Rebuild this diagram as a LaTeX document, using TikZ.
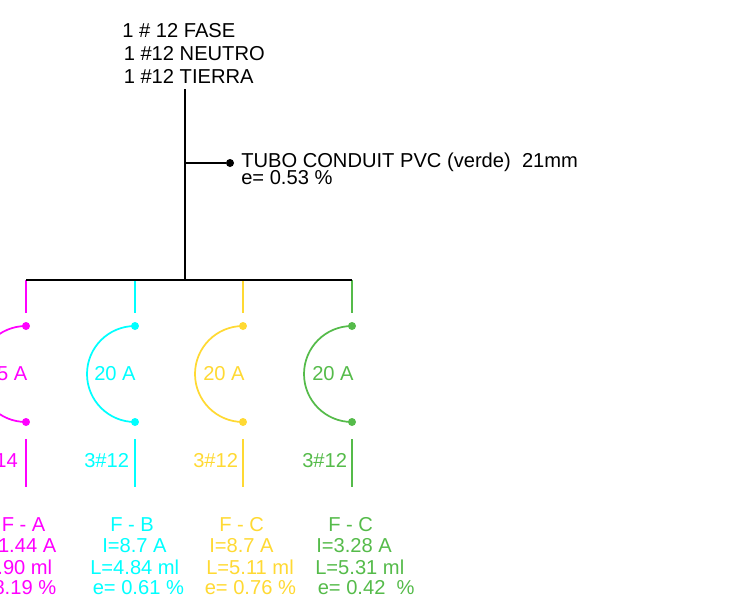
\documentclass[tikz,border=0pt]{standalone}
\usepackage{fontspec}
\setmainfont{Liberation Sans}
\definecolor{faseA}{HTML}{FF00FF}
\definecolor{faseB}{HTML}{00FFFF}
\definecolor{faseC}{HTML}{FFD933}
\definecolor{faseD}{HTML}{55BB4A}
\tikzset{
  lbl/.style={inner sep=0pt,anchor=base west,xshift=-0.75pt,font=\fontsize{15.1}{15}\selectfont},
  lblr/.style={lbl,anchor=base east},
  dot/.style={circle,fill,inner sep=0pt,minimum size=6pt},
  bus/.style={line width=1.5pt,black},
  wire/.style={line width=1.3pt}
}
\begin{document}
\begin{tikzpicture}[x=0.75pt,y=-0.75pt]
  \useasboundingbox (0,0) rectangle (731,608);
  % alimentador
  \draw
    (123,37) node[lbl] (t1){1 \# 12 FASE}
    (124.5,60) node[lbl] (t2){1 \#12 NEUTRO}
    (124.5,83) node[lbl] (t3){1 \#12 TIERRA}
    (242,167) node[lbl] (t4){TUBO CONDUIT PVC (verde)\ \ 21mm}
    (242,184) node[lbl] (t5){e= 0.53 \%};
  \coordinate (top) at (185,89);
  \coordinate (j0) at (185,163);
  \coordinate (j1) at (185,280);
  \coordinate (b0) at (26,280);
  \coordinate (b1) at (135,280);
  \coordinate (b2) at (243,280);
  \coordinate (b3) at (352,280);
  \node[dot,black] (d0) at (230,163) {};
  \draw[bus] (top) -- (j1);
  \draw[line width=1.2pt] (j0) -- (d0);
  % circuito A
  \begin{scope}[faseA,text=faseA]
    \coordinate (s0) at (26,313);
    \coordinate (u0) at (26,439);
    \coordinate (v0) at (26,487);
    \node[dot] (p0) at (26,326) {};
    \node[dot] (q0) at (26,422) {};
    \draw[wire] (b0) -- (s0);
    \draw[wire] (p0.center) arc[start angle=-90,end angle=-270,radius=48];
    \draw[wire] (u0) -- (v0);
    \draw
      (28.5,380) node[lblr] (a0){5 A}
      (19,467) node[lblr] (c0){14}
      (2.5,531) node[lbl] (f0){F - A}
      (57.5,552) node[lblr] (i0){1.44 A}
      (53.5,574) node[lblr] (l0){.90 ml}
      (57.5,594) node[lblr] (e0){8.19 \%};
  \end{scope}
  % circuito B
  \begin{scope}[faseB,text=faseB]
    \coordinate (s1) at (135,313);
    \coordinate (u1) at (135,439);
    \coordinate (v1) at (135,487);
    \node[dot] (p1) at (135,326) {};
    \node[dot] (q1) at (135,422) {};
    \draw[wire] (b1) -- (s1);
    \draw[wire] (p1.center) arc[start angle=-90,end angle=-270,radius=48];
    \draw[wire] (u1) -- (v1);
    \draw
      (95,380) node[lbl] (a1){20 A}
      (85,467) node[lbl] (c1){3\#12}
      (111,531) node[lbl] (f1){F - B}
      (103,552) node[lbl] (i1){I=8.7 A}
      (91,574) node[lbl] (l1){L=4.84 ml}
      (93.5,594) node[lbl] (e1){e= 0.61 \%};
  \end{scope}
  % circuito C
  \begin{scope}[faseC,text=faseC]
    \coordinate (s2) at (243,313);
    \coordinate (u2) at (243,439);
    \coordinate (v2) at (243,487);
    \node[dot] (p2) at (243,326) {};
    \node[dot] (q2) at (243,422) {};
    \draw[wire] (b2) -- (s2);
    \draw[wire] (p2.center) arc[start angle=-90,end angle=-270,radius=48];
    \draw[wire] (u2) -- (v2);
    \draw
      (204,380) node[lbl] (a2){20 A}
      (194,467) node[lbl] (c2){3\#12}
      (220,531) node[lbl] (f2){F - C}
      (210,552) node[lbl] (i2){I=8.7 A}
      (207,574) node[lbl] (l2){L=5.11 ml}
      (205.5,594) node[lbl] (e2){e= 0.76 \%};
  \end{scope}
  % circuito D
  \begin{scope}[faseD,text=faseD]
    \coordinate (s3) at (352,313);
    \coordinate (u3) at (352,439);
    \coordinate (v3) at (352,487);
    \node[dot] (p3) at (352,326) {};
    \node[dot] (q3) at (352,422) {};
    \draw[wire] (b3) -- (s3);
    \draw[wire] (p3.center) arc[start angle=-90,end angle=-270,radius=48];
    \draw[wire] (u3) -- (v3);
    \draw
      (313,380) node[lbl] (a3){20 A}
      (303,467) node[lbl] (c3){3\#12}
      (329,531) node[lbl] (f3){F - C}
      (317,552) node[lbl] (i3){I=3.28 A}
      (316,574) node[lbl] (l3){L=5.31 ml}
      (318.5,594) node[lbl] (e3){e= 0.42\ \ \%};
  \end{scope}
  % barra
  \draw[bus] (b0) -- (b3);
\end{tikzpicture}
\end{document}
